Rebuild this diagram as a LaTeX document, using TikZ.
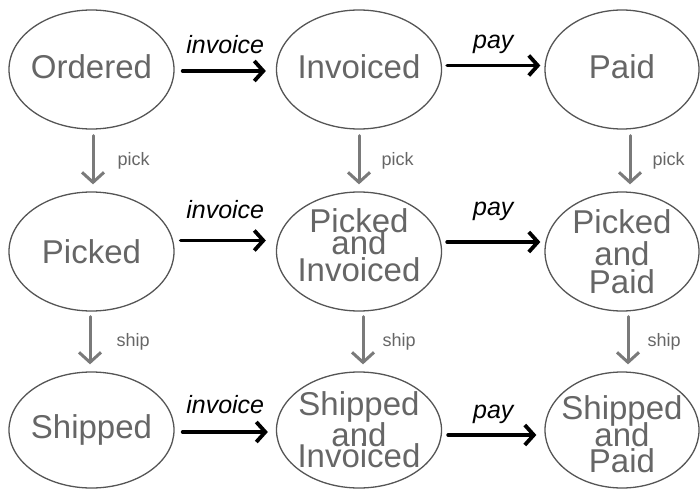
\documentclass[tikz,border=0pt]{standalone}
\usepackage{fontspec}
\setmainfont{Liberation Sans}
\usetikzlibrary{shapes.geometric,arrows.meta}

\definecolor{stategray}{HTML}{666666}
\definecolor{rimgray}{HTML}{555555}
\definecolor{flowgray}{HTML}{7A7A7A}

\tikzset{
state/.style={
ellipse,
draw=rimgray,
line width=1.3pt,
minimum width=165pt,
minimum height=119pt,
inner xsep=-14pt,
inner ysep=-10pt,
align=center,
text=stategray,
font=\fontsize{33}{27}\selectfont
},
action/.style={
black,
line width=3.8pt,
line cap=round,
line join=round,
-{Straight Barb[length=9pt,width=20pt]}
},
flow/.style={
flowgray,
line width=3pt,
line cap=round,
line join=round,
-{Straight Barb[length=10pt,width=22pt]}
},
actlabel/.style={
anchor=base,
inner sep=0pt,
yshift=17pt,
font=\fontsize{25}{25}\selectfont\itshape
},
flowlabel/.style={
anchor=west,
inner sep=0pt,
xshift=23pt,
text=stategray,
font=\fontsize{18}{18}\selectfont
}
}

\begin{document}
\begin{tikzpicture}[x=1pt,y=-1pt]

\useasboundingbox (0,0) rectangle (700,489);

% Les neuf etats
\node[state,text depth=6pt] (ordered) at (91.5,69.5) {Ordered};
\node[state,text depth=6pt] (invoiced) at (359,69.5) {Invoiced};
\node[state,text depth=6pt,minimum width=154pt] (paid) at (622,69.5) {Paid};

\node[state] (picked) at (91.5,251.5) {Picked};
\node[state,text depth=12pt] (pickinv) at (359,251.5) {Picked\\[-5pt]and\\Invoiced};
\node[state,minimum width=154pt] (pickpaid) at (622,251.5) {Picked\\[5pt]and\\[1pt]Paid};

\node[state,minimum height=116pt] (shipped) at (91.5,430) {Shipped};
\node[state,text depth=1pt,minimum height=116pt] (shipinv) at (359,430) {Shipped\\and\\[-6pt]Invoiced};
\node[state,text height=86pt,minimum width=154pt,minimum height=116pt] (shippaid) at (622,430) {Shipped\\[-4pt]and\\[-1pt]Paid};

% invoice / pay
\draw[action,shorten <=8pt,shorten >=10pt]
([yshift=-1.5pt]ordered.east) -- node[actlabel] {invoice} ([yshift=-1.5pt]invoiced.west);
\draw[action,shorten <=5pt,shorten >=4pt]
([yshift=4pt]invoiced.east) -- node[actlabel] {pay} ([yshift=4pt]paid.west);

\draw[action,shorten <=6pt,shorten >=10pt]
([yshift=11pt]picked.east) -- node[actlabel,yshift=5pt] {invoice} ([yshift=11pt]pickinv.west);
\draw[action,shorten <=5pt,shorten >=4pt]
([yshift=9.5pt]pickinv.east) -- node[actlabel,yshift=10pt] {pay} ([yshift=9.5pt]pickpaid.west);

\draw[action,shorten <=8pt,shorten >=8pt]
([yshift=-2pt]shipped.east) -- node[actlabel,yshift=2pt] {invoice} ([yshift=-2pt]shipinv.west);
\draw[action,shorten <=6pt,shorten >=8pt]
([yshift=-5pt]shipinv.east) -- node[actlabel] {pay} ([yshift=-5pt]shippaid.west);

% pick / ship
\draw[flow,shorten <=6pt,shorten >=7pt]
([xshift=1.5pt]ordered.south) -- node[flowlabel] {pick} ([xshift=1.5pt]picked.north);
\draw[flow,shorten <=6pt,shorten >=7pt]
(invoiced) -- node[flowlabel,xshift=-2pt] {pick} (pickinv);
\draw[flow,shorten <=6pt,shorten >=7pt]
([xshift=8pt]paid.south) -- node[flowlabel,xshift=-2pt] {pick} ([xshift=8pt]pickpaid.north);

\draw[flow,shorten <=5pt,shorten >=7pt]
([xshift=-1.5pt]picked.south) -- node[flowlabel,xshift=2pt] {ship} ([xshift=-1.5pt]shipped.north);
\draw[flow,shorten <=5pt,shorten >=7pt]
([xshift=4pt]pickinv.south) -- node[flowlabel,xshift=-5pt] {ship} ([xshift=4pt]shipinv.north);
\draw[flow,shorten <=5pt,shorten >=7pt]
([xshift=6pt]pickpaid.south) -- node[flowlabel,xshift=-5pt] {ship} ([xshift=6pt]shippaid.north);

\end{tikzpicture}
\end{document}
